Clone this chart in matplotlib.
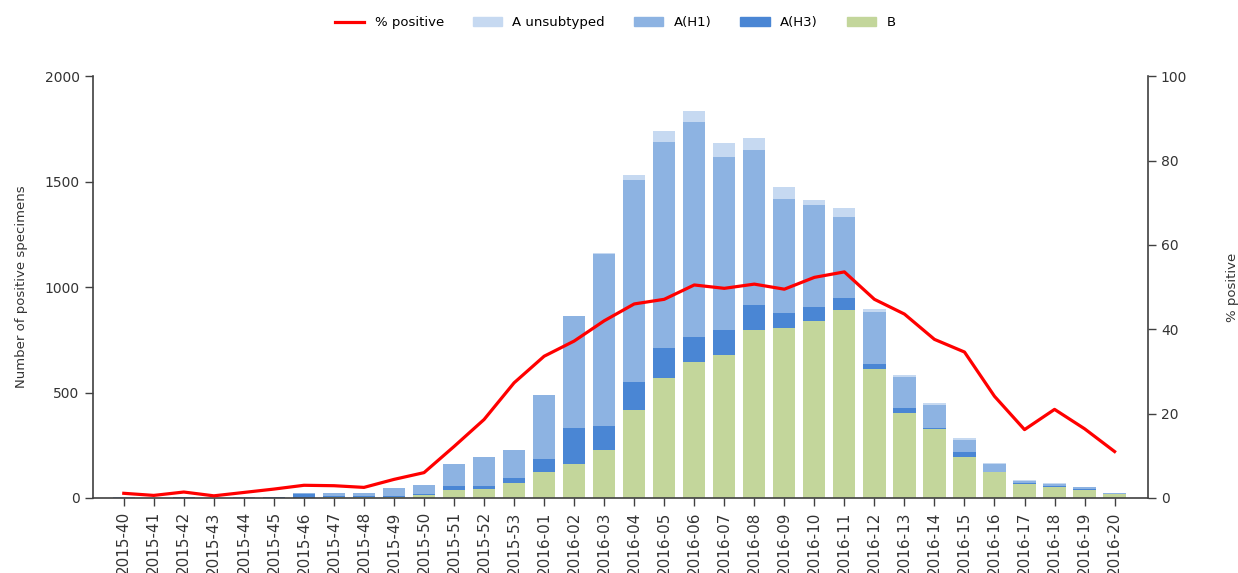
import numpy as np
import matplotlib.pyplot as plt
from matplotlib.lines import Line2D
from matplotlib.patches import Patch

# semanas
semanas = ["2015-%d" % w for w in range(40, 54)] + ["2016-%02d" % w for w in range(1, 21)]

# muestras positivas por tipo
b = [1, 1, 2, 1, 1, 2, 2, 3, 3, 5, 15, 38, 44, 73, 125, 160, 227,
     415, 567, 646, 678, 796, 807, 839, 891, 610, 401, 329, 196, 122, 68, 54, 40, 20]
a_h3 = [1, 0, 2, 0, 1, 1, 15, 5, 4, 6, 6, 19, 14, 23, 58, 170, 116,
        136, 142, 119, 118, 119, 68, 65, 58, 24, 24, 5, 23, 3, 2, 2, 1, 0]
a_h1 = [1, 1, 2, 1, 2, 2, 8, 17, 15, 35, 38, 104, 135, 131, 305, 532, 815,
        956, 980, 1019, 819, 734, 545, 485, 384, 249, 148, 107, 57, 34, 10, 11, 10, 3]
a_unsub = [0, 0, 0, 0, 0, 0, 0, 0, 0, 0, 0, 0, 0, 0, 0, 0, 5,
           24, 50, 52, 66, 59, 53, 26, 40, 11, 10, 11, 7, 5, 3, 3, 3, 2]

# porcentaje positivo
pct = [1.1, 0.6, 1.4, 0.5, 1.3, 2.1, 3.0, 2.9, 2.5, 4.4, 6.0, 12.2, 18.6, 27.3, 33.6, 37.2, 42.0,
       46.0, 47.1, 50.5, 49.7, 50.7, 49.5, 52.3, 53.6, 47.1, 43.6, 37.6, 34.6, 24.1, 16.2, 21.0, 16.4, 11.0]

col_b = "#c3d69b"
col_h3 = "#4a86d4"
col_h1 = "#8db3e2"
col_un = "#c6d9f1"
col_eje = "#404040"

x = np.arange(len(semanas))
b = np.array(b)
a_h3 = np.array(a_h3)
a_h1 = np.array(a_h1)
a_unsub = np.array(a_unsub)

fig = plt.figure(figsize=(12.38, 5.73), dpi=100)
ax = fig.add_axes([0.075, 0.131, 0.852, 0.736])
ax2 = ax.twinx()

w = 0.74
ax.bar(x, b, w, color=col_b)
ax.bar(x, a_h3, w, bottom=b, color=col_h3)
ax.bar(x, a_h1, w, bottom=b + a_h3, color=col_h1)
ax.bar(x, a_unsub, w, bottom=b + a_h3 + a_h1, color=col_un)

ax2.plot(x, pct, color="#ff0000", lw=2.3)

ax.set_xlim(-1.03, 34.1)
ax.set_ylim(0, 2000)
ax2.set_ylim(0, 100)
ax.set_yticks([0, 500, 1000, 1500, 2000])
ax2.set_yticks([0, 20, 40, 60, 80, 100])
ax.set_xticks(x)
ax.set_xticklabels(semanas, rotation=90, color="#333333")

for a in (ax, ax2):
    a.spines["top"].set_visible(False)
    for s in ("left", "right", "bottom"):
        a.spines[s].set_color(col_eje)
        a.spines[s].set_linewidth(1.2)
    a.tick_params(colors=col_eje, labelcolor="#333333", labelsize=10, length=6, width=1.0)
ax.tick_params(axis="x", labelsize=11)
ax.spines["right"].set_visible(False)
ax2.spines["left"].set_visible(False)
ax2.spines["bottom"].set_visible(False)

ax.set_ylabel("Number of positive specimens", fontsize=9.5, color="#333333", labelpad=12)
ax2.set_ylabel("% positive", fontsize=9.5, color="#333333", labelpad=28)

handles = [Line2D([0], [0], color="#ff0000", lw=2.3),
           Patch(color=col_un), Patch(color=col_h1), Patch(color=col_h3), Patch(color=col_b)]
labels = ["% positive", "A unsubtyped", "A(H1)", "A(H3)", "B"]
fig.legend(handles, labels, loc="center", bbox_to_anchor=(0.497, 0.96), ncol=5,
           frameon=False, fontsize=9.5, handlelength=2.2, columnspacing=2.2)

fig.savefig("out.png", dpi=100)
